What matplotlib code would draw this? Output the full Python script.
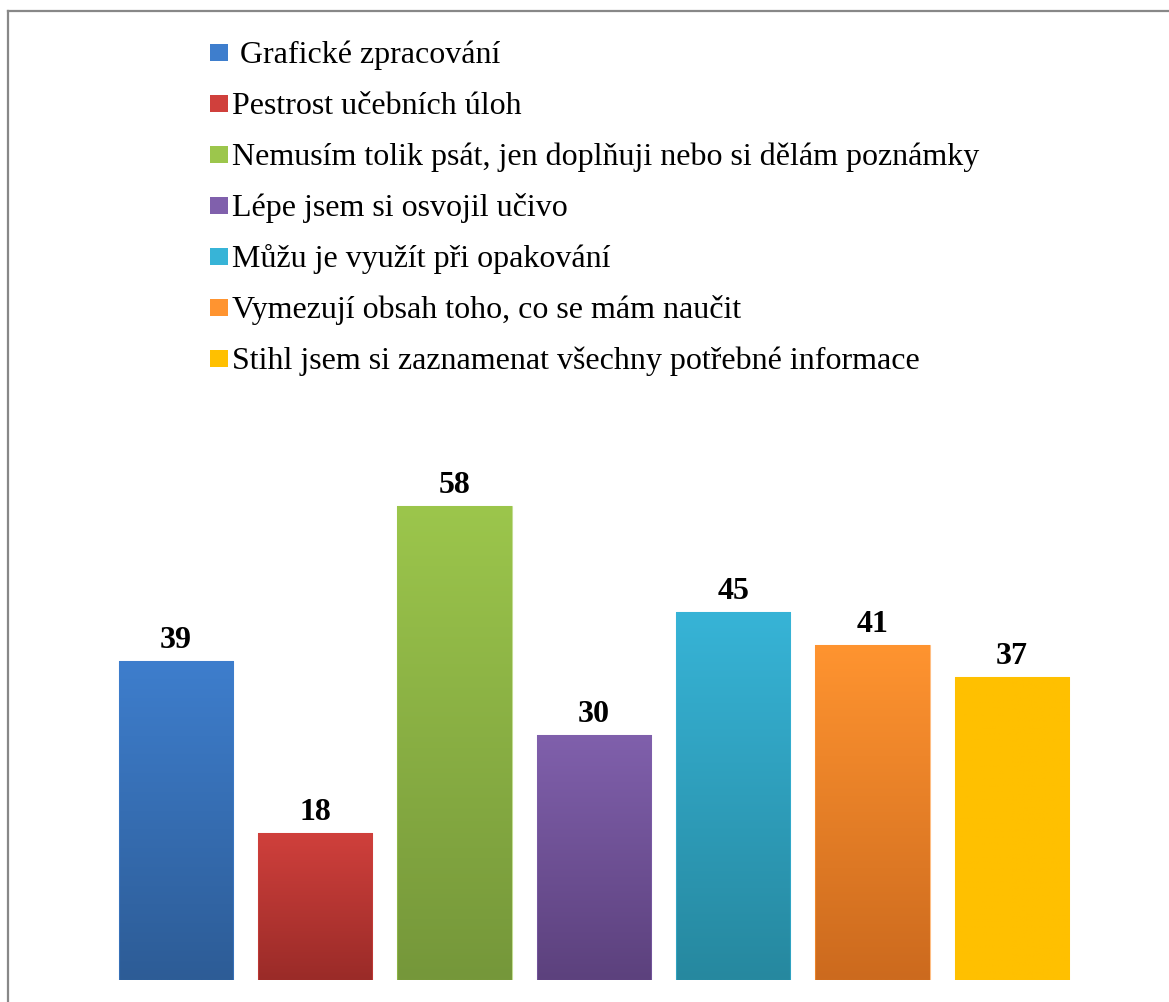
import numpy as np
import matplotlib.pyplot as plt
from matplotlib.colors import LinearSegmentedColormap
from matplotlib.patches import Rectangle
from matplotlib.lines import Line2D

# data
labels = [" Grafické zpracování",
          "Pestrost učebních úloh",
          "Nemusím tolik psát, jen doplňuji nebo si dělám poznámky",
          "Lépe jsem si osvojil učivo",
          "Můžu je využít při opakování",
          "Vymezují obsah toho, co se mám naučit",
          "Stihl jsem si zaznamenat všechny potřebné informace"]
values = [39, 18, 58, 30, 45, 41, 37]
top_colors = ["#3E7ECD", "#D0403C", "#9CC64C", "#8060AC", "#37B4D7", "#FF9430", "#FFC000"]
bottom_colors = ["#2D5C96", "#9A2B28", "#75973A", "#5C417D", "#26889F", "#CC6A1E", "#FFC000"]

W, H = 1169, 1003
fig = plt.figure(figsize=(W / 100, H / 100), dpi=100)
fig.patch.set_facecolor("white")

ax = fig.add_axes([106.35 / W, 22 / H, 975.1 / W, 531.7 / H])
x = np.arange(len(values))
bars = ax.bar(x, values, width=0.82, color=top_colors, linewidth=0)

# vertical gradient fill for each bar
grad = np.linspace(1, 0, 256).reshape(-1, 1)
for b, c1, c2 in zip(bars, top_colors, bottom_colors):
    cmap = LinearSegmentedColormap.from_list("g", [c2, c1])
    x0, y0 = b.get_x(), b.get_y()
    im = ax.imshow(grad, cmap=cmap, aspect="auto", origin="upper",
                   extent=[x0, x0 + b.get_width(), y0, y0 + b.get_height()],
                   zorder=2)
    im.set_clip_path(b)
    b.set_facecolor("none")
    b.set_edgecolor(c1)
    b.set_linewidth(0.8)
    b.set_alpha(0.6)
    b.set_zorder(3)

for xi, v in zip(x, values):
    ax.annotate(str(v), (xi, v), xytext=(0, 10), textcoords="offset points",
                ha="center", va="baseline", fontsize=23, fontweight="bold",
                family="Liberation Serif")

ax.set_xlim(-0.5, len(values) - 0.5)
ax.set_ylim(0, 65)
ax.axis("off")

# legend
row0 = 63  # baseline of first row, pixels from top
step = 51
for i, (lab, c) in enumerate(zip(labels, top_colors)):
    base = row0 + step * i
    fig.patches.append(Rectangle((210 / W, 1 - (base - 1) / H), 18 / W, 17 / H,
                                 transform=fig.transFigure, facecolor=c,
                                 edgecolor="none"))
    fig.text(232 / W, 1 - base / H, lab, fontsize=23, family="Liberation Serif",
             va="baseline", ha="left")

# frame lines (left and top)
fig.add_artist(Line2D([8 / W, 8 / W], [0, 1 - 12 / H], color="#888888",
                      linewidth=1.6, transform=fig.transFigure))
fig.add_artist(Line2D([8 / W, 1], [1 - 12 / H, 1 - 12 / H], color="#888888",
                      linewidth=1.6, transform=fig.transFigure))

fig.savefig("out.png", dpi=100)
